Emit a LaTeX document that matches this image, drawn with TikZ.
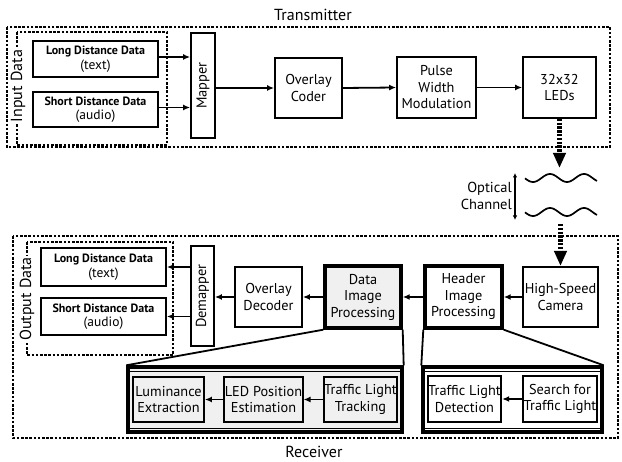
\documentclass[tikz,border=0pt]{standalone}
\usepackage{fontspec}
\setmainfont{PT Sans}
\usetikzlibrary{arrows.meta}
\begin{document}
\begin{tikzpicture}[x=1pt,y=-1pt,
  box/.style={draw, line width=1.8pt, fill=white, align=center, inner sep=0.5pt, font=\fontsize{14.3}{16.5}\selectfont},
  databox/.style={draw, line width=1.8pt, fill=white, align=center, inner sep=0.5pt, font=\fontsize{13.5}{14.5}\selectfont},
  dbold/.style={},
  thickbox/.style={box, line width=3.4pt},
  shaded/.style={fill=black!6},
  dashbox/.style={line width=1.7pt, dash pattern=on 2.6pt off 1.6pt},
  arr/.style={line width=1.8pt, -{Latex[length=7pt,width=6pt]}},
  bigarr/.style={line width=5pt, dash pattern=on 2.4pt off 1.4pt, -{Triangle[length=15pt,width=12pt]}},
  link/.style={line width=1.8pt},
  lbl/.style={font=\fontsize{14.5}{16.5}\selectfont, inner sep=1pt},
  biglbl/.style={font=\fontsize{16}{18}\selectfont, inner sep=1pt},
  sidelbl/.style={biglbl, fill=white, rotate=90}
]
\useasboundingbox (0,0) rectangle (622,462);
% ---------- Transmitter ----------
\draw[dashbox] (7,27) rectangle (610,147);
\draw[dashbox] (17,32) rectangle (167,145);
\node[sidelbl] (inlbl) at (18,86) {Input Data};
\node[biglbl] (txlbl) at (313,15) {Transmitter};

\node[databox, minimum width=125pt, minimum height=36pt] (ldd) at (95.5,59) {{\fontsize{12}{13}\selectfont\bfseries Long Distance Data}\\(text)};
\node[databox, minimum width=125pt, minimum height=35pt] (sdd) at (95.5,109.5) {{\fontsize{12}{13}\selectfont\bfseries Short Distance Data}\\(audio)};
\node[box, minimum width=24pt, minimum height=105pt] (mapper) at (203,85.5) {};
\node[lbl, rotate=90] (mappertxt) at (mapper) {Mapper};
\node[box, minimum width=67pt, minimum height=60pt] (ocoder) at (308.5,88) {Overlay\\Coder};
\node[box, minimum width=79pt, minimum height=61pt] (pwm) at (436.5,87.5) {Pulse\\Width\\Modulation};
\node[box, minimum width=73pt, minimum height=61pt] (leds) at (559.5,87.5) {32x32\\LEDs};

\draw[arr] ([yshift=2pt]ldd.east) -- ([yshift=2pt]ldd.east -| mapper.west);
\draw[arr] ([yshift=2pt]sdd.east) -- ([yshift=2pt]sdd.east -| mapper.west);
\draw[arr] (mapper.east |- ocoder.west) -- (ocoder.west);
\draw[arr] (ocoder.east) -- (pwm.west);
\draw[arr] (pwm.east) -- (leds.west);

% ---------- Optical channel ----------
\coordinate (txend) at (559.5,168);
\coordinate (rxstart) at (560.5,224);
\draw[bigarr] (leds.south) -- (txend);
\draw[bigarr] (rxstart) -- (560.5,266);
\coordinate (cha) at (515,173);
\coordinate (chb) at (515,220);
\draw[line width=1.5pt, {Latex[length=4.5pt,width=4.5pt]}-{Latex[length=4.5pt,width=4.5pt]}] (cha) -- (chb);
\node[lbl, align=right, anchor=east] (optlbl) at (513,196) {Optical\\Channel};
\draw[line width=1.7pt] plot[domain=0:72, samples=80] ({525+\x},{178 - 4*cos(10.588*(\x-25))});
\draw[line width=1.7pt] plot[domain=0:72, samples=80] ({525+\x},{212 - 4*cos(10.588*(\x-25))});

% ---------- Receiver ----------
\draw[dashbox] (13,236) rectangle (618,438);
\draw[dashbox] (27,242) rectangle (173,355);
\node[sidelbl] (outlbl) at (27,299) {Output Data};
\node[biglbl] (rxlbl) at (314,452) {Receiver};

\node[databox, minimum width=125pt, minimum height=38pt] (oldd) at (103.5,267) {{\fontsize{12}{13}\selectfont\bfseries Long Distance Data}\\(text)};
\node[databox, minimum width=125pt, minimum height=37pt] (osdd) at (103.5,316.5) {{\fontsize{12}{13}\selectfont\bfseries Short Distance Data}\\(audio)};
\node[box, minimum width=23pt, minimum height=100pt] (demapper) at (202.5,296) {};
\node[lbl, rotate=90] (demappertxt) at (demapper) {Demapper};
\node[box, minimum width=67pt, minimum height=60pt] (odec) at (268.5,297) {Overlay\\Decoder};
\node[thickbox, shaded, minimum width=76pt, minimum height=62pt] (dip) at (363,297) {Data\\Image\\Processing};
\node[thickbox, minimum width=77pt, minimum height=62pt] (hip) at (463.5,297) {Header\\Image\\Processing};
\node[box, minimum width=75pt, minimum height=60pt] (cam) at (560.5,297) {High-Speed\\Camera};

\draw[arr] (cam.west) -- (cam.west -| hip.east);
\draw[arr] (hip.west) -- (hip.west -| dip.east);
\draw[arr] (dip.west) -- (dip.west -| odec.east);
\draw[arr] (odec.west) -- (odec.west -| demapper.east);
\draw[arr] (demapper.west |- oldd.east) -- (oldd.east);
\draw[arr] (demapper.west |- osdd.east) -- (osdd.east);

% ---------- detail boxes ----------
\node[draw, line width=3.4pt, shaded, minimum width=274pt, minimum height=65pt] (det1) at (265,399.5) {};
\node[draw, line width=3.4pt, fill=white, minimum width=179pt, minimum height=65pt] (det2) at (512.5,399.5) {};
\draw[line width=1.1pt] ([yshift=-6pt]det1.north west) -- ([yshift=-6pt]det1.north east);
\draw[line width=1.1pt] ([yshift=5pt]det1.south west) -- ([yshift=5pt]det1.south east);
\draw[line width=1.1pt] ([yshift=-6pt]det2.north west) -- ([yshift=-6pt]det2.north east);
\draw[line width=1.1pt] ([yshift=5pt]det2.south west) -- ([yshift=5pt]det2.south east);

\draw[link] (dip.south west) -- (det1.north west);
\draw[link] (dip.south east) -- (det1.north east);
\draw[link] (hip.south west) -- (det2.north west);
\draw[link] (hip.south east) -- (det2.north east);

\node[box, shaded, minimum width=71pt, minimum height=45pt] (lum) at (168.5,399.5) {Luminance\\Extraction};
\node[box, shaded, minimum width=73pt, minimum height=45pt] (ledpos) at (263.5,399.5) {LED Position\\Estimation};
\node[box, shaded, minimum width=71pt, minimum height=45pt] (tlt) at (360.5,399.5) {Traffic Light\\Tracking};
\node[box, minimum width=73pt, minimum height=46pt] (tld) at (464.5,399) {Traffic Light\\Detection};
\node[box, minimum width=70pt, minimum height=46pt] (sftl) at (560,399) {Search for\\Traffic Light};

\draw[arr] (tlt.west) -- (ledpos.east);
\draw[arr] (ledpos.west) -- (lum.east);
\draw[arr] (sftl.west) -- (tld.east);
\end{tikzpicture}
\end{document}
